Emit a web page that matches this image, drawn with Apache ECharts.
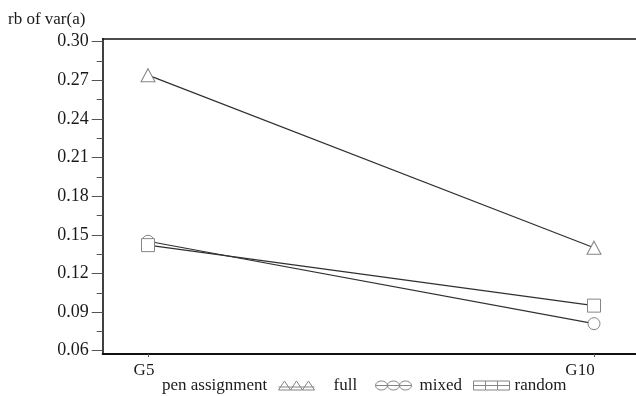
<!DOCTYPE html>
<html>
<head>
<meta charset="utf-8">
<script src="https://cdn.jsdelivr.net/npm/echarts@6/dist/echarts.min.js"></script>
<style>html,body{margin:0;padding:0;background:#fff}#c{width:636px;height:396px}</style>
</head>
<body>
<div id="c"></div>
<script>
const categories = ['G5', 'G10'];
const fullValues = [0.274, 0.140];
const mixedValues = [0.145, 0.081];
const randomValues = [0.142, 0.095];
const yTicks = [0.06, 0.09, 0.12, 0.15, 0.18, 0.21, 0.24, 0.27, 0.30];
const yName = 'rb of var(a)';
const legendTitle = 'pen assignment';
const seriesNames = ['full', 'mixed', 'random'];

const FONT = '"Liberation Serif", "Times New Roman", serif';
const TXT = '#1a1a1a';
const MARK = '#858585';
const LINE = '#303030';

const triIcon = 'path://M0 9 L6 0 L12 9 Z M12 9 L18 0 L24 9 Z M24 9 L30 0 L36 9 Z M0 6 L36 6';
const cirIcon = 'path://M0 4.5 A6 4.5 0 1 1 12 4.5 A6 4.5 0 1 1 0 4.5 Z M12 4.5 A6 4.5 0 1 1 24 4.5 A6 4.5 0 1 1 12 4.5 Z M24 4.5 A6 4.5 0 1 1 36 4.5 A6 4.5 0 1 1 24 4.5 Z M0 4.5 L36 4.5';
const sqIcon = 'path://M0 0 L12 0 L12 9 L0 9 Z M12 0 L24 0 L24 9 L12 9 Z M24 0 L36 0 L36 9 L24 9 Z M0 4.5 L36 4.5';

const chart = echarts.init(document.getElementById('c'), null, {renderer: 'canvas'});

function mkSeries(name, vals, symbol, size) {
  return {
    name: name, type: 'line', xAxisIndex: 0, yAxisIndex: 0,
    data: vals, symbol: symbol, symbolSize: size, showAllSymbol: true,
    lineStyle: {color: LINE, width: 1.2},
    itemStyle: {color: '#fff', borderColor: MARK, borderWidth: 1},
    emphasis: {disabled: true}, animation: false, z: 3
  };
}

function mkLegend(name, icon, left, padLeft) {
  return {
    left: left, top: 372, itemWidth: 36, itemHeight: 9, itemGap: 0,
    data: [{name: name, icon: icon}],
    itemStyle: {color: 'transparent', borderColor: MARK, borderWidth: 1},
    lineStyle: {opacity: 0},
    textStyle: {fontFamily: FONT, fontSize: 17, color: TXT, padding: [0, 0, 0, padLeft]},
    selectedMode: false
  };
}

chart.setOption({
  animation: false,
  backgroundColor: '#fff',
  title: [
    {text: yName, left: 3, top: 6, textStyle: {fontFamily: FONT, fontSize: 17, fontWeight: 'normal', color: TXT}},
    {text: legendTitle, left: 157, top: 372, textStyle: {fontFamily: FONT, fontSize: 17, fontWeight: 'normal', color: TXT}}
  ],
  legend: [
    mkLegend(seriesNames[0], triIcon, 273, 14),
    mkLegend(seriesNames[1], cirIcon, 370, 3),
    mkLegend(seriesNames[2], sqIcon, 468, 0)
  ],
  grid: [
    {left: 148, right: 42, top: 41.7, bottom: 45.3},
    {left: 102.7, right: 0, top: 38.7, bottom: 42}
  ],
  xAxis: [
    {
      type: 'category', gridIndex: 0, data: categories, boundaryGap: false,
      offset: 3.3,
      axisLine: {show: false},
      axisTick: {show: true, length: 3, lineStyle: {color: '#555'}},
      axisLabel: {
        fontFamily: FONT, fontSize: 17, color: TXT, margin: 8,
        formatter: function (v, i) { return i === 0 ? '{a|' + v + '}' : '{b|' + v + '}'; },
        rich: {
          a: {fontFamily: FONT, fontSize: 17, color: TXT, padding: [0, 8, 0, 0]},
          b: {fontFamily: FONT, fontSize: 17, color: TXT, padding: [0, 28, 0, 0]}
        }
      },
      splitLine: {show: false}
    },
    {
      type: 'value', gridIndex: 1, position: 'bottom', min: 0, max: 1,
      axisLine: {show: true, lineStyle: {color: '#111', width: 2}},
      axisTick: {show: false}, axisLabel: {show: false}, splitLine: {show: false}
    },
    {
      type: 'value', gridIndex: 1, position: 'top', min: 0, max: 1,
      axisLine: {show: true, lineStyle: {color: '#111', width: 1.6}},
      axisTick: {show: false}, axisLabel: {show: false}, splitLine: {show: false}
    }
  ],
  yAxis: [
    {
      type: 'value', gridIndex: 0, min: yTicks[0], max: yTicks[yTicks.length - 1], interval: 0.03,
      offset: 45.3,
      axisLine: {show: false},
      axisTick: {show: true, length: 11, lineStyle: {color: '#555', width: 1}},
      minorTick: {show: true, splitNumber: 2, length: 6, lineStyle: {color: '#555', width: 1}},
      axisLabel: {
        fontFamily: FONT, fontSize: 18, color: TXT, margin: 14,
        formatter: function (v) { return v.toFixed(2); }
      },
      splitLine: {show: false}
    },
    {
      type: 'value', gridIndex: 1, position: 'left', min: 0, max: 1,
      axisLine: {show: true, lineStyle: {color: '#111', width: 1.6}},
      axisTick: {show: false}, axisLabel: {show: false}, splitLine: {show: false}
    }
  ],
  series: [
    mkSeries(seriesNames[0], fullValues, 'triangle', [14, 13]),
    mkSeries(seriesNames[1], mixedValues, 'circle', 12),
    mkSeries(seriesNames[2], randomValues, 'rect', 13)
  ]
});
</script>
</body>
</html>
